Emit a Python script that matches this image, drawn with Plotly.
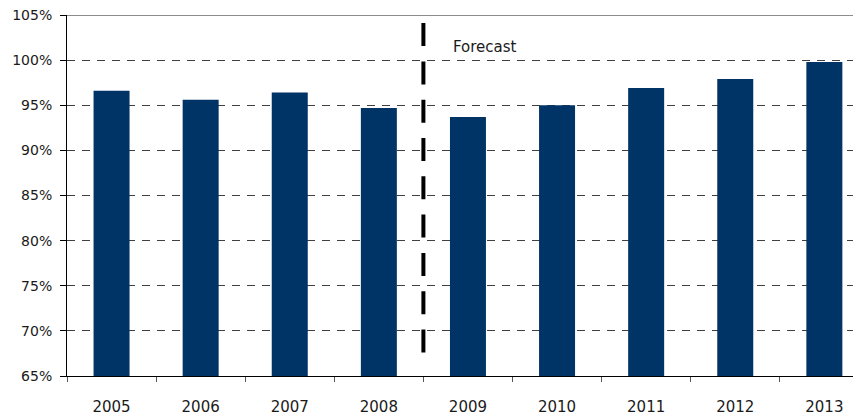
import plotly.graph_objects as go

years = ["2005", "2006", "2007", "2008", "2009", "2010", "2011", "2012", "2013"]
values = [96.6, 95.6, 96.4, 94.7, 93.7, 95.0, 96.9, 97.9, 99.8]
y_ticks = [65, 70, 75, 80, 85, 90, 95, 100, 105]
forecast_label = "Forecast"
forecast_after = "2008"  # forecast starts after this year

FONT = "DejaVu Sans"
BAR = "#003366"
PAGE_OFFSET = 8  # default body margin of the html page

fig = go.Figure()
fig.add_trace(go.Bar(
    x=years, y=values, width=0.404, marker=dict(color=BAR, line=dict(width=0)),
    hoverinfo="x+y",
))

split_x = years.index(forecast_after) + 0.5

# solid grey top border underneath the dashed top gridline
fig.add_shape(type="line", xref="paper", yref="y", x0=0, x1=1, y0=105, y1=105,
              line=dict(color="#8c8c8c", width=2), layer="below")

# forecast divider
fig.add_shape(type="line", xref="x", yref="y", x0=split_x, x1=split_x,
              y0=104.1, y1=67.45, line=dict(color="black", width=4, dash="23px,15.3px"))

fig.add_annotation(x=split_x, y=101.45, xref="x", yref="y", text=forecast_label,
                   showarrow=False, xanchor="left", yanchor="middle", xshift=28,
                   font=dict(family=FONT, size=15, color="#1a1a1a"))

fig.update_layout(
    width=861 - PAGE_OFFSET, height=417 - PAGE_OFFSET,
    margin=dict(l=67 - PAGE_OFFSET, r=1, t=15 - PAGE_OFFSET, b=41, pad=0),
    paper_bgcolor="white", plot_bgcolor="white",
    showlegend=False,
    font=dict(family=FONT, size=15, color="#1a1a1a"),
)
fig.update_xaxes(
    type="category", range=[-0.5, len(years) - 0.6],
    showline=True, linecolor="black", linewidth=1,
    ticks="outside", tickson="boundaries", ticklen=5, tickcolor="#555555",
    showgrid=False, tickfont=dict(family=FONT, size=15), ticklabelstandoff=17,
    automargin=False, ticklabeloverflow="allow",
)
fig.update_yaxes(
    range=[65, 105], tickvals=y_ticks, ticktext=[f"{v}%" for v in y_ticks],
    showline=True, linecolor="black", linewidth=1,
    ticks="outside", ticklen=6, tickcolor="black",
    showgrid=True, gridcolor="#404040", gridwidth=1, griddash="8px,7px",
    zeroline=False, tickfont=dict(family=FONT, size=14), ticklabelstandoff=5,
    automargin=False, ticklabeloverflow="allow",
)

fig.write_html("out.html")
